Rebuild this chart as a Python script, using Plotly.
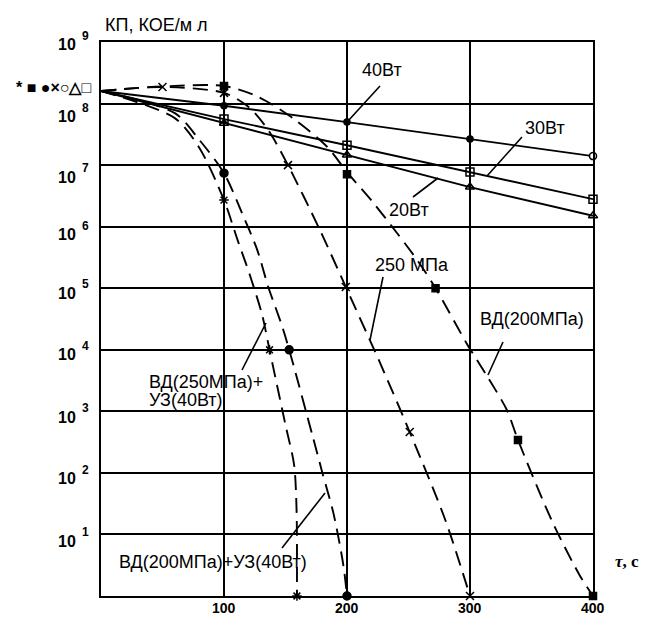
import plotly.graph_objects as go

# ---------------- data ----------------
x_ticks = [100, 200, 300, 400]
x_tick_labels = ["100", "200", "300", "400"]
y_exps = [1, 2, 3, 4, 5, 6, 7, 8, 9]

# solid lines (ultrasound)
t_40 = [0, 100, 200, 300, 400]
v_40 = [1.6e8, 9.2e7, 5.0e7, 2.65e7, 1.4e7]
t_30 = [0, 100, 200, 300, 400]
v_30 = [1.6e8, 5.6e7, 2.1e7, 7.7e6, 2.8e6]
t_20 = [0, 100, 200, 300, 400]
v_20 = [1.6e8, 4.8e7, 1.46e7, 4.4e6, 1.5e6]

# ВД(200МПа) dashed curve and its markers
t_vd200 = [0, 50, 100, 128, 157, 184, 200, 221, 240, 258, 272, 298, 314, 330, 339, 367, 389, 400]
v_vd200 = [1.6e8, 1.9e8, 1.93e8, 1.28e8, 5.6e7, 1.97e7, 7.7e6, 2.5e6, 8.2e5, 2.7e5, 1.0e5,
           1.2e4, 3.7e3, 1.05e3, 343, 16, 2.2, 1]
tm_vd200 = [100, 200, 272, 339, 400]
vm_vd200 = [1.93e8, 7.1e6, 1.0e5, 343, 1]

# 250 МПа dashed curve and its markers
t_250 = [0, 50, 100, 120, 136, 152, 178, 199, 226, 251, 280, 300]
v_250 = [1.6e8, 1.86e8, 1.49e8, 8.8e7, 3.7e7, 1.0e7, 8.8e5, 1.05e5, 6.7e3, 460, 17, 1]
tm_250 = [50, 100, 152, 199, 251, 300]
vm_250 = [1.86e8, 1.49e8, 1.0e7, 1.05e5, 460, 1]

# ВД(250МПа)+УЗ(40Вт)
t_c250 = [0, 60, 80, 100, 111, 121, 131, 137, 150, 157, 159, 159.3]
v_c250 = [1.6e8, 5.8e7, 1.9e7, 2.7e6, 6.1e5, 1.64e5, 3.7e4, 1.0e4, 600, 135, 25, 1]
tm_c250 = [100, 137, 159.3]
vm_c250 = [2.7e6, 1.0e4, 1]

# ВД(200МПа)+УЗ(40Вт)
t_c200 = [0, 60, 80, 100, 115, 127, 136, 147, 153, 172, 180, 189, 197, 200]
v_c200 = [1.6e8, 7.0e7, 2.56e7, 7.4e6, 1.6e6, 4.2e5, 1.05e5, 2.5e4, 1.0e4, 400, 100, 22, 3.2, 1]
tm_c200 = [100, 153, 200]
vm_c200 = [7.4e6, 1.0e4, 1]

# ---------------- layout geometry (reference pixels) ----------------
OFF = 8                      # page body margin
W, H = 649 - OFF, 617 - OFF
L, R, T, B = 101, 593, 42, 596   # plot area in reference pixels


def px(x):
    return (x - L) / (R - L)


def py(y):
    return (B - y) / (B - T)


SANS = "Liberation Sans, Arial, sans-serif"
fig = go.Figure()

DASH = "15px,8px"
LW = 1.9


def line(t, v, dash=None):
    fig.add_trace(go.Scatter(x=t, y=v, mode="lines",
                             line=dict(color="black", width=LW, dash=dash or "solid",
                                       shape="spline" if dash else "linear", smoothing=0.8),
                             showlegend=False, hoverinfo="skip"))


def marks(t, v, symbol, size=7, fill="black"):
    fig.add_trace(go.Scatter(x=t, y=v, mode="markers", cliponaxis=False,
                             marker=dict(symbol=symbol, size=size, color=fill,
                                         line=dict(color="black", width=1.5)),
                             showlegend=False, hoverinfo="skip"))


line(t_40, v_40)
line(t_30, v_30)
line(t_20, v_20)
line(t_vd200, v_vd200, DASH)
line(t_250, v_250, DASH)
line(t_c250, v_c250, DASH)
line(t_c200, v_c200, DASH)

marks(t_40[1:4], v_40[1:4], "circle", 6)
marks(t_40[4:], v_40[4:], "circle", 7, "white")
marks(t_30[1:], v_30[1:], "square", 8, "rgba(0,0,0,0)")
marks(t_20[1:], v_20[1:], "triangle-up", 8, "rgba(0,0,0,0)")
marks(tm_vd200, vm_vd200, "square", 7)
marks(tm_250, vm_250, "x-thin-open", 8)
marks(tm_c250, vm_c250, "asterisk-open", 8)
marks(tm_c200, vm_c200, "circle", 8)

fig.update_xaxes(range=[0, 400], tickvals=x_ticks, showticklabels=False,
                 showgrid=True, gridcolor="black", gridwidth=2,
                 showline=True, linecolor="black", linewidth=2, mirror=True,
                 zeroline=False, ticks="", automargin=False)
fig.update_yaxes(type="log", range=[0, 9], tickvals=[10 ** k for k in y_exps],
                 showticklabels=False,
                 showgrid=True, gridcolor="black", gridwidth=2,
                 showline=True, linecolor="black", linewidth=2, mirror=True,
                 zeroline=False, ticks="", automargin=False)

ann = []
# y tick labels
yshift = {9: 3, 8: 13, 7: 12, 6: 8, 5: 5, 4: 5, 3: 6, 2: 6, 1: 7}
for k in y_exps:
    yc = T + (9 - k) * (B - T) / 9 + yshift[k]
    ann.append(dict(text="10", x=px(78), y=py(yc), xanchor="right", yanchor="middle",
                    font=dict(family=SANS, size=16, color="black", weight="bold")))
    ann.append(dict(text=str(k), x=px(80), y=py(yc - 9), xanchor="left", yanchor="middle",
                    font=dict(family=SANS, size=12, color="black", weight="bold")))
# x tick labels
for tv, tl in zip(x_ticks, x_tick_labels):
    ann.append(dict(text=tl, x=tv / 400, y=py(608), xanchor="center", yanchor="middle",
                    borderpad=0,
                    font=dict(family=SANS, size=14, color="black", weight="bold")))


def label(text, x, y, size=18, xa="center", family=SANS, weight="normal"):
    ann.append(dict(text=text, x=px(x), y=py(y), xanchor=xa, yanchor="middle",
                    font=dict(family=family, size=size, color="black", weight=weight)))


label("КП, КОЕ/м л", 103, 25, 18, "left")
label("* ■ ●×○△□", 93, 87, 16, "right", weight="bold")
label("40Вт", 382, 70)
label("30Вт", 545, 128)
label("20Вт", 409, 210)
label("250 МПа", 412, 265)
label("ВД(200МПа)", 532, 319)
label("ВД(250МПа)+", 147, 382, 18, "left")
label("УЗ(40Вт)", 147, 400, 18, "left")
label("ВД(200МПа)+УЗ(40Вт)", 213, 562, 18, "center")
label("<i>τ</i>, с", 613, 561, 17, "left", family="Liberation Serif, Times New Roman, serif",
      weight="bold")

for a in ann:
    a.update(xref="paper", yref="paper", showarrow=False)

pointers = [
    ((380, 86), (348, 121)),
    ((522, 137), (487, 176)),
    ((413, 197), (438, 178)),
    ((383, 277), (370, 340)),
    ((503, 342), (488, 375)),
    ((242, 370), (266, 323)),
    ((282, 548), (325, 493)),
]
shapes = [dict(type="line", xref="paper", yref="paper", x0=px(a[0]), y0=py(a[1]),
               x1=px(b[0]), y1=py(b[1]), line=dict(color="black", width=1.6))
          for a, b in pointers]
# white label backgrounds that hide the grid (drawn between grid and traces)
for (x0, y0, x1, y1) in [(147, 367, 263, 426), (110, 551, 318, 575)]:
    shapes.append(dict(type="rect", xref="paper", yref="paper", layer="between",
                       x0=px(x0), y0=py(y1), x1=px(x1), y1=py(y0),
                       fillcolor="white", line=dict(width=0)))

fig.update_layout(width=W, height=H,
                  margin=dict(l=L - OFF, r=W - (R - OFF), t=T - OFF, b=H - (B - OFF)),
                  paper_bgcolor="white", plot_bgcolor="white",
                  annotations=ann, shapes=shapes, showlegend=False)

fig.write_html("out.html")
